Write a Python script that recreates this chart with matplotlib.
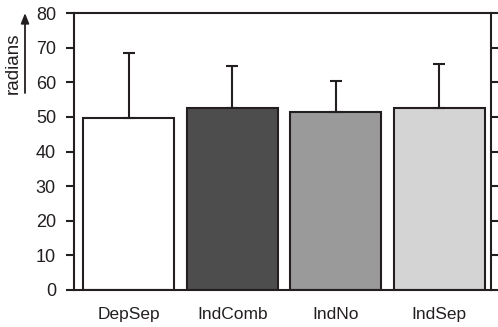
import matplotlib
matplotlib.use('Agg')
import matplotlib.pyplot as plt

plt.rcParams['font.family'] = ['Liberation Sans', 'DejaVu Sans']

conditions = ['DepSep', 'IndComb', 'IndNo', 'IndSep']
means = [49.8, 52.6, 51.4, 52.6]
upper_err = [18.7, 12.1, 8.9, 12.8]
bar_colors = ['#ffffff', '#4d4d4d', '#9a9a9a', '#d4d4d4']

INK = '#231f20'

fig = plt.figure(figsize=(4.98, 3.27), dpi=100)
ax = fig.add_axes([74 / 498, 1 - 290 / 327, (491 - 74) / 498, (290 - 13) / 327])

x = range(len(conditions))
ax.bar(x, means, width=0.88, color=bar_colors, edgecolor=INK, linewidth=1.5,
       yerr=[[0] * len(means), upper_err], ecolor=INK,
       error_kw=dict(elinewidth=1.5, capsize=4, capthick=1.5), zorder=2)

ax.set_xlim(-0.53, 3.5)
ax.set_ylim(0, 80)
ax.set_yticks(range(0, 81, 10))
ax.set_xticks(list(x))
ax.set_xticklabels(conditions, fontsize=12.5, color=INK)
ax.tick_params(axis='x', length=0, pad=12)
ax.tick_params(axis='y', direction='out', length=6, width=1.5, colors=INK,
               labelsize=13, right=True, pad=7)
for s in ax.spines.values():
    s.set_color(INK)
    s.set_linewidth(1.5)

# y label with upward arrow
fig.text(13 / 498, 1 - 63 / 327, 'radians', rotation=90, ha='center', va='center',
         fontsize=13.5, color=INK)
fig.add_artist(matplotlib.patches.FancyArrowPatch(
    (25 / 498, 1 - 93 / 327), (25 / 498, 1 - 13 / 327), transform=fig.transFigure,
    arrowstyle='-|>,head_length=0.5,head_width=0.2', color=INK, linewidth=1.3,
    mutation_scale=12, shrinkA=0, shrinkB=0))

fig.savefig('out.png', dpi=100)
